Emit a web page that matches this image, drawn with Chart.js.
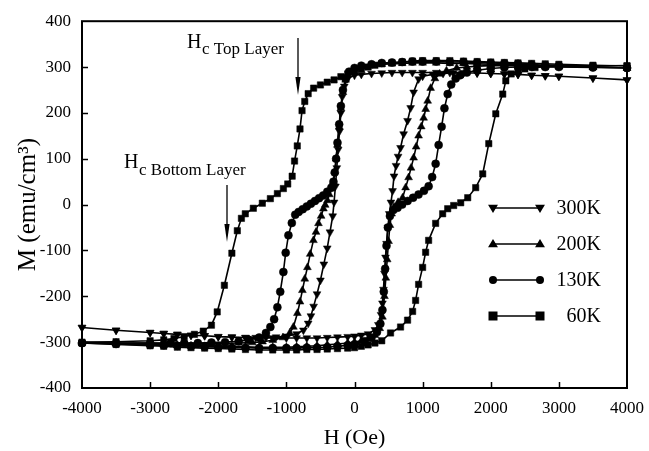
<!DOCTYPE html>
<html>
<head>
<meta charset="utf-8">
<title>Hysteresis loops</title>
<script src="https://cdn.jsdelivr.net/npm/chart.js@4.4.1/dist/chart.umd.min.js"></script>
<style>
    html, body { margin: 0; padding: 0; background: #fff; }
    canvas { display: block; }
</style>
</head>
<body>
<canvas id="loopChart" width="649" height="451"></canvas>
<script>
const seriesLabels = ['300K', '200K', '130K', ' 60K'];

const h300Down = [4000, 3500, 3000, 2800, 2600, 2400, 2200, 2000, 1800, 1600, 1400, 1200, 1000, 850, 700, 550, 400, 250, 100, 0, -100, -150, -180, -200, -220, -240, -260, -280, -300, -320, -360, -400, -450, -500, -550, -600, -640, -680, -750, -850, -1000, -1150, -1300, -1450, -1600, -1800, -2000, -2200, -2400, -2600, -2800, -3000, -3500, -4000];
const m300Down = [272, 276, 280, 281, 282, 284, 285, 286, 287, 287, 288, 288, 288, 288, 288, 288, 287, 286, 284, 282, 275, 258, 235, 200, 160, 120, 80, 40, 5, -25, -60, -95, -130, -165, -195, -222, -243, -259, -274, -282, -287, -289, -290, -290, -290, -289, -288, -286, -285, -283, -281, -279, -274, -268];
const h300Up = [-4000, -3500, -3000, -2800, -2600, -2400, -2200, -2000, -1800, -1600, -1400, -1200, -1000, -850, -700, -550, -400, -250, -100, 0, 100, 200, 300, 350, 390, 410, 425, 440, 455, 470, 490, 510, 535, 559, 580, 610, 640, 676, 721, 779, 824, 868, 941, 1000, 1150, 1300, 1450, 1600, 1800, 2000, 2200, 2400, 2600, 2800, 3000, 3500, 4000];
const m300Up = [-268, -274, -279, -281, -283, -285, -286, -288, -289, -290, -291, -291, -291, -291, -291, -291, -290, -289, -288, -287, -285, -282, -273, -262, -240, -215, -185, -150, -115, -85, -50, -20, 5, 30, 62, 85, 105, 124, 154, 183, 211, 245, 274, 280, 284, 286, 287, 287, 287, 286, 285, 284, 282, 281, 280, 276, 272];

const h200Down = [4000, 3500, 3000, 2800, 2600, 2400, 2200, 2000, 1800, 1600, 1400, 1200, 1000, 850, 700, 550, 400, 250, 100, 0, -80, -130, -170, -200, -225, -250, -270, -290, -310, -340, -370, -397, -430, -456, -490, -529, -565, -603, -650, -691, -730, -765, -800, -838, -897, -950, -1050, -1200, -1350, -1500, -1700, -1900, -2100, -2300, -2500, -2700, -3000, -3500, -4000];
const m200Down = [298, 300, 302, 303, 304, 305, 306, 306, 307, 308, 308, 309, 309, 309, 308, 307, 306, 304, 300, 295, 287, 272, 245, 210, 170, 130, 100, 72, 50, 35, 22, 9, -1, -9, -25, -41, -60, -78, -108, -137, -162, -187, -212, -237, -267, -280, -290, -296, -299, -301, -302, -303, -303, -303, -303, -303, -302, -302, -301];
const h200Up = [-4000, -3500, -3000, -2800, -2600, -2400, -2200, -2000, -1800, -1600, -1400, -1200, -1000, -850, -700, -550, -400, -250, -100, 0, 100, 200, 300, 370, 410, 440, 460, 480, 500, 520, 545, 580, 640, 706, 750, 794, 830, 868, 905, 941, 980, 1015, 1045, 1074, 1118, 1180, 1250, 1350, 1500, 1650, 1800, 2000, 2200, 2400, 2600, 2800, 3000, 3500, 4000];
const m200Up = [-301, -303, -305, -306, -307, -308, -309, -309, -310, -310, -311, -311, -311, -310, -309, -308, -306, -304, -302, -300, -297, -293, -285, -270, -245, -200, -160, -120, -80, -45, -20, -5, 5, 15, 37, 59, 80, 102, 126, 150, 170, 189, 208, 226, 254, 275, 285, 292, 298, 300, 302, 303, 303, 303, 302, 302, 301, 300, 298];

const h130Down = [4000, 3500, 3000, 2800, 2600, 2400, 2200, 2000, 1800, 1600, 1400, 1200, 1000, 850, 700, 550, 400, 250, 100, 0, -80, -130, -170, -200, -225, -250, -270, -290, -309, -340, -400, -460, -520, -580, -640, -700, -760, -820, -870, -920, -970, -1010, -1044, -1090, -1132, -1180, -1235, -1300, -1400, -1550, -1700, -1900, -2100, -2300, -2500, -2700, -3000, -3500, -4000];
const m130Down = [298, 300, 303, 304, 305, 307, 308, 309, 310, 311, 311, 312, 312, 312, 311, 310, 309, 306, 303, 298, 290, 275, 250, 215, 175, 135, 100, 70, 50, 37, 28, 20, 14, 8, 2, -4, -10, -16, -22, -40, -67, -105, -147, -190, -224, -250, -267, -280, -290, -295, -298, -300, -301, -302, -302, -302, -302, -302, -302];
const h130Up = [-4000, -3500, -3000, -2800, -2600, -2400, -2200, -2000, -1800, -1600, -1400, -1200, -1000, -850, -700, -550, -400, -250, -100, 0, 150, 250, 330, 380, 410, 430, 450, 470, 490, 520, 570, 632, 700, 780, 860, 940, 1020, 1088, 1140, 1191, 1235, 1279, 1320, 1368, 1420, 1485, 1550, 1650, 1800, 2000, 2200, 2400, 2600, 2800, 3000, 3500, 4000];
const m130Up = [-302, -304, -306, -307, -308, -309, -310, -311, -312, -312, -313, -313, -313, -313, -312, -312, -311, -309, -307, -305, -298, -290, -278, -260, -230, -190, -140, -90, -50, -25, -12, -7, 0, 8, 15, 22, 30, 40, 60, 89, 130, 170, 210, 241, 262, 275, 282, 288, 293, 297, 299, 300, 300, 300, 300, 299, 298];

const h60Down = [4000, 3500, 3000, 2800, 2600, 2400, 2200, 2000, 1800, 1600, 1400, 1200, 1000, 850, 700, 550, 400, 300, 200, 100, 0, -100, -200, -300, -400, -500, -600, -680, -730, -770, -800, -840, -880, -915, -980, -1044, -1132, -1235, -1353, -1485, -1603, -1660, -1720, -1800, -1910, -2015, -2100, -2220, -2350, -2500, -2650, -2800, -3000, -3500, -4000];
const m60Down = [302, 304, 306, 307, 308, 309, 310, 311, 312, 313, 314, 314, 314, 313, 311, 309, 307, 304, 300, 296, 291, 285, 279, 272, 267, 261, 254, 242, 225, 205, 165, 128, 95, 62, 45, 35, 24, 13, 3, -8, -20, -30, -57, -106, -176, -234, -263, -276, -283, -288, -292, -295, -297, -299, -300];
const h60Up = [-4000, -3500, -3000, -2800, -2600, -2400, -2200, -2000, -1800, -1600, -1400, -1200, -1000, -850, -700, -550, -400, -250, -100, 0, 100, 200, 300, 400, 529, 676, 779, 853, 897, 941, 1000, 1044, 1088, 1191, 1294, 1368, 1456, 1559, 1662, 1779, 1882, 1971, 2074, 2176, 2221, 2300, 2400, 2500, 2650, 2800, 3000, 3500, 4000];
const m60Up = [-302, -305, -308, -309, -311, -312, -313, -314, -315, -316, -317, -317, -317, -317, -316, -316, -315, -314, -313, -312, -309, -306, -302, -297, -280, -267, -252, -233, -209, -174, -137, -104, -78, -41, -20, -9, -2, 4, 15, 37, 67, 133, 198, 241, 270, 285, 292, 296, 299, 301, 302, 302, 303];

const hTicks = [-4000, -3000, -2000, -1000, 0, 1000, 2000, 3000, 4000];
const mTicks = [-400, -300, -200, -100, 0, 100, 200, 300, 400];

const SERIF = "'Liberation Serif', 'Times New Roman', serif";

function loopPoints(hDown, mDown, hUp, mUp) {
    const pts = hDown.map((h, i) => ({ x: h, y: mDown[i] }));
    return pts.concat(hUp.map((h, i) => ({ x: h, y: mUp[i] })));
}

// marker look for each temperature
const markerStyles = [
    { pointStyle: 'triangle', rotation: 180, radius: 4.5 },
    { pointStyle: 'triangle', rotation: 0, radius: 4.5 },
    { pointStyle: 'circle', rotation: 0, radius: 4 },
    { pointStyle: 'rect', rotation: 0, radius: 4.5 }
];

const loops = [
    loopPoints(h300Down, m300Down, h300Up, m300Up),
    loopPoints(h200Down, m200Down, h200Up, m200Up),
    loopPoints(h130Down, m130Down, h130Up, m130Up),
    loopPoints(h60Down, m60Down, h60Up, m60Up)
];

function drawMarker(ctx, style, x, y) {
    const r = style.radius;
    ctx.beginPath();
    if (style.pointStyle === 'circle') {
        ctx.arc(x, y, r, 0, Math.PI * 2);
    } else if (style.pointStyle === 'rect') {
        ctx.rect(x - r, y - r, r * 2, r * 2);
    } else {
        const dir = style.rotation === 180 ? -1 : 1;
        ctx.moveTo(x, y - dir * r * 1.1);
        ctx.lineTo(x - r * 1.1, y + dir * r * 0.7);
        ctx.lineTo(x + r * 1.1, y + dir * r * 0.7);
        ctx.closePath();
    }
    ctx.fill();
}

// frame, inward ticks, legend and the two Hc labels
const decorPlugin = {
    id: 'decor',
    afterDraw(chart) {
        const ctx = chart.ctx;
        const area = chart.chartArea;
        const xs = chart.scales.x;
        const ys = chart.scales.y;
        ctx.save();
        ctx.strokeStyle = '#000';
        ctx.fillStyle = '#000';
        ctx.lineWidth = 2;
        ctx.strokeRect(area.left, area.top, area.right - area.left, area.bottom - area.top);

        ctx.lineWidth = 1.5;
        hTicks.slice(1, -1).forEach(v => {
            const px = Math.round(xs.getPixelForValue(v)) + 0.5;
            ctx.beginPath();
            ctx.moveTo(px, area.bottom);
            ctx.lineTo(px, area.bottom - 6);
            ctx.stroke();
        });
        mTicks.slice(1, -1).forEach(v => {
            const py = Math.round(ys.getPixelForValue(v)) + 0.5;
            ctx.beginPath();
            ctx.moveTo(area.left, py);
            ctx.lineTo(area.left + 6, py);
            ctx.stroke();
        });

        // legend
        const rowY = [208, 244, 280, 316];
        ctx.font = '20px ' + SERIF;
        ctx.textBaseline = 'middle';
        ctx.textAlign = 'right';
        seriesLabels.forEach((label, i) => {
            const y = rowY[i];
            ctx.lineWidth = 1.6;
            ctx.beginPath();
            ctx.moveTo(493, y);
            ctx.lineTo(540, y);
            ctx.stroke();
            drawMarker(ctx, markerStyles[i], 493, y);
            drawMarker(ctx, markerStyles[i], 540, y);
            ctx.fillText(label, 601, y + 1);
        });

        // Hc labels
        ctx.textAlign = 'left';
        ctx.textBaseline = 'alphabetic';
        ctx.font = '20px ' + SERIF;
        ctx.fillText('H', 187, 48);
        ctx.fillText('H', 124, 168);
        ctx.font = '17px ' + SERIF;
        ctx.fillText('c Top Layer', 202, 54);
        ctx.fillText('c Bottom Layer', 139, 175);

        const arrow = (x, y0, y1) => {
            ctx.lineWidth = 1.3;
            ctx.beginPath();
            ctx.moveTo(x, y0);
            ctx.lineTo(x, y1 - 12);
            ctx.stroke();
            ctx.beginPath();
            ctx.moveTo(x - 2.6, y1 - 18);
            ctx.lineTo(x + 2.6, y1 - 18);
            ctx.lineTo(x, y1);
            ctx.closePath();
            ctx.fill();
        };
        arrow(298, 38, 95);
        arrow(227, 185, 242);
        ctx.restore();
    }
};

const chart = new Chart(document.getElementById('loopChart'), {
    type: 'scatter',
    data: {
        datasets: loops.map((pts, i) => ({
            label: seriesLabels[i],
            data: pts,
            showLine: true,
            borderColor: '#000',
            borderWidth: 1.6,
            backgroundColor: '#000',
            pointBackgroundColor: '#000',
            pointBorderColor: '#000',
            pointBorderWidth: 0.5,
            pointStyle: markerStyles[i].pointStyle,
            pointRotation: markerStyles[i].rotation,
            pointRadius: markerStyles[i].radius,
            tension: 0,
            clip: false
        }))
    },
    options: {
        responsive: false,
        animation: false,
        layout: {
            padding: { top: 20, right: 22, left: 0, bottom: 0 }
        },
        plugins: {
            legend: { display: false },
            tooltip: { enabled: false }
        },
        scales: {
            x: {
                type: 'linear',
                min: -4000,
                max: 4000,
                afterBuildTicks: scale => { scale.ticks = hTicks.map(v => ({ value: v })); },
                afterFit: scale => {
                    scale.height = 63;
                    scale.paddingLeft = 0;
                    scale.paddingRight = 0;
                },
                ticks: {
                    color: '#000',
                    padding: 10,
                    maxRotation: 0,
                    callback: v => String(v),
                    font: { family: SERIF, size: 17 }
                },
                grid: { display: false, drawTicks: false },
                border: { display: false },
                title: {
                    display: true,
                    text: 'H (Oe)',
                    color: '#000',
                    padding: { top: 0, bottom: 0 },
                    font: { family: SERIF, size: 22 }
                }
            },
            y: {
                type: 'linear',
                min: -400,
                max: 400,
                afterBuildTicks: scale => { scale.ticks = mTicks.map(v => ({ value: v })); },
                afterFit: scale => { scale.width = 82; },
                ticks: {
                    color: '#000',
                    padding: 11,
                    callback: v => String(v),
                    font: { family: SERIF, size: 17 }
                },
                grid: { display: false, drawTicks: false },
                border: { display: false },
                title: {
                    display: true,
                    text: 'M (emu/cm³)',
                    color: '#000',
                    padding: { top: 13, bottom: 13 },
                    font: { family: SERIF, size: 25 }
                }
            }
        }
    },
    plugins: [decorPlugin]
});
</script>
</body>
</html>
